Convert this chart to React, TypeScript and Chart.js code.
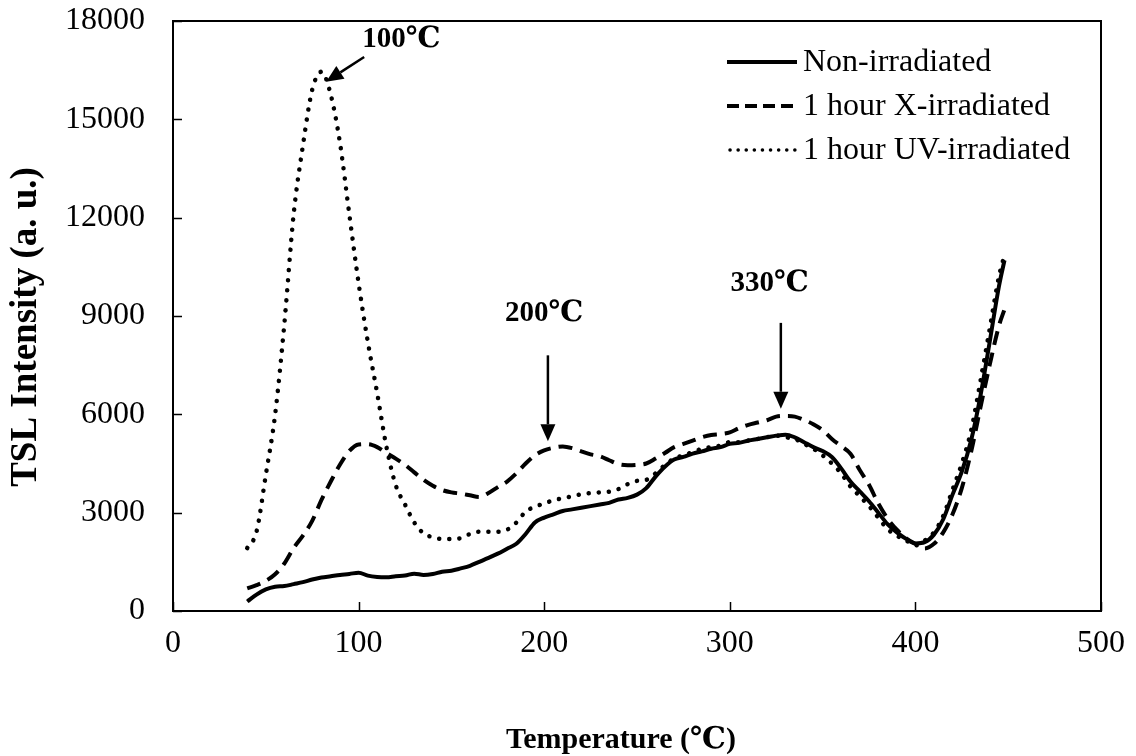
import React, { useEffect, useRef } from "react";
import { Chart, registerables } from "chart.js";

Chart.register(...registerables);

// Temperature (°C)
const temps = [
  40, 45, 50, 55, 60, 65, 70, 75, 80, 85,
  90, 95, 100, 105, 110, 115, 120, 125, 130, 135,
  140, 145, 150, 155, 160, 165, 170, 175, 180, 185,
  190, 195, 200, 205, 210, 215, 220, 225, 230, 235,
  240, 245, 250, 255, 260, 265, 270, 275, 280, 285,
  290, 295, 300, 305, 310, 315, 320, 325, 330, 335,
  340, 345, 350, 355, 360, 365, 370, 375, 380, 385,
  390, 395, 400, 405, 410, 415, 420, 425, 430, 435,
  440, 445, 448,
];

const nonIrradiated = [
  290, 500, 660, 740, 760, 820, 880, 960, 1020, 1060,
  1100, 1130, 1170, 1080, 1040, 1030, 1060, 1080, 1140, 1100,
  1130, 1200, 1230, 1300, 1380, 1500, 1620, 1750, 1900, 2050,
  2350, 2700, 2850, 2950, 3050, 3100, 3150, 3200, 3250, 3300,
  3400, 3450, 3550, 3750, 4100, 4400, 4620, 4700, 4800, 4870,
  4950, 5000, 5100, 5130, 5200, 5250, 5300, 5350, 5380, 5300,
  5150, 5000, 4880, 4700, 4350, 3950, 3650, 3350, 3000, 2650,
  2400, 2200, 2060, 2100, 2330, 2800, 3550, 4250, 5200, 6550,
  8200, 9900, 10700,
];

const xIrradiated = [
  690, 790, 920, 1120, 1450, 1920, 2300, 2750, 3390, 3950,
  4470, 4880, 5080, 5090, 5000, 4820, 4650, 4460, 4230, 4000,
  3820, 3690, 3620, 3580, 3530, 3480, 3600, 3780, 3950, 4200,
  4500, 4750, 4900, 4980, 5020, 4970, 4870, 4780, 4720, 4600,
  4480, 4450, 4460, 4500, 4650, 4820, 5000, 5100, 5200, 5300,
  5370, 5400, 5450, 5580, 5680, 5750, 5820, 5930, 5950, 5930,
  5830, 5700, 5520, 5250, 5030, 4800, 4300, 3850, 3280, 2820,
  2480, 2220, 2050, 1910, 2050, 2400, 2950, 3750, 4850, 6200,
  7500, 8700, 9200,
];

const uvIrradiated = [
  1920, 2420, 4150, 5980, 8760, 12100, 14200, 15900, 16450, 15750,
  14270, 12100, 10000, 8200, 6650, 5010, 3840, 3250, 2700, 2370,
  2250, 2200, 2200, 2220, 2350, 2420, 2420, 2420, 2480, 2700,
  3030, 3180, 3280, 3380, 3440, 3500, 3560, 3600, 3620, 3640,
  3720, 3870, 3970, 4000, 4200, 4450, 4650, 4750, 4850, 4950,
  5000, 5050, 5150, 5150, 5200, 5250, 5300, 5350, 5300, 5250,
  5100, 4950, 4750, 4500, 4200, 3800, 3500, 3200, 2850, 2500,
  2300, 2150, 2000, 2150, 2400, 2900, 3700, 4500, 5500, 7000,
  8600, 10200, 10860,
];

const seriesLabels = ["Non-irradiated", "1 hour X-irradiated", "1 hour UV-irradiated"];
const xTickValues = [0, 100, 200, 300, 400, 500];
const yTickValues = [0, 3000, 6000, 9000, 12000, 15000, 18000];

const peakLabels = ["100℃", "200℃", "330℃"];
// annotation anchors in data units: text centre, arrow start, arrow tip
const peakTextAt = [
  [123, 17450],
  [200, 9090],
  [321.5, 10000],
];
const peakArrowFrom = [
  [103, 16900],
  [202, 7800],
  [327.5, 8790],
];
const peakArrowTo = [
  [82.5, 16150],
  [202, 5180],
  [327.5, 6170],
];

const FONT = '"Liberation Serif", "Times New Roman", "DejaVu Serif", serif';
const dashStyles: number[][] = [[], [14, 8], [0.1, 10]];
const widths = [4, 4, 4.5];
const caps: CanvasLineCap[] = ["butt", "butt", "round"];

const decorPlugin = {
  id: "decor",
  afterDraw(chart: any) {
    const ctx = chart.ctx as CanvasRenderingContext2D;
    const { left, right, top, bottom } = chart.chartArea;
    const xs = chart.scales.x;
    const ys = chart.scales.y;
    ctx.save();
    // frame
    ctx.strokeStyle = "#000";
    ctx.lineWidth = 2;
    ctx.setLineDash([]);
    ctx.strokeRect(left, top, right - left, bottom - top);
    // inward ticks
    ctx.lineWidth = 1.5;
    ctx.beginPath();
    for (const v of yTickValues) {
      const py = Math.round(ys.getPixelForValue(v)) + 0.5;
      ctx.moveTo(left, py);
      ctx.lineTo(left + 9, py);
    }
    for (const v of xTickValues) {
      const px = Math.round(xs.getPixelForValue(v)) + 0.5;
      ctx.moveTo(px, bottom);
      ctx.lineTo(px, bottom - 9);
    }
    ctx.stroke();

    // peak annotations
    ctx.fillStyle = "#000";
    ctx.font = `bold 29px ${FONT}`;
    ctx.textAlign = "center";
    ctx.textBaseline = "middle";
    peakLabels.forEach((lab, i) => {
      const tx = xs.getPixelForValue(peakTextAt[i][0]);
      const ty = ys.getPixelForValue(peakTextAt[i][1]);
      ctx.fillText(lab, tx, ty);
      const x0 = xs.getPixelForValue(peakArrowFrom[i][0]);
      const y0 = ys.getPixelForValue(peakArrowFrom[i][1]);
      const x1 = xs.getPixelForValue(peakArrowTo[i][0]);
      const y1 = ys.getPixelForValue(peakArrowTo[i][1]);
      const ang = Math.atan2(y1 - y0, x1 - x0);
      const headLen = 17;
      const headW = 7.5;
      const bx = x1 - headLen * Math.cos(ang);
      const by = y1 - headLen * Math.sin(ang);
      ctx.lineWidth = 2.5;
      ctx.beginPath();
      ctx.moveTo(x0, y0);
      ctx.lineTo(bx, by);
      ctx.stroke();
      ctx.beginPath();
      ctx.moveTo(x1, y1);
      ctx.lineTo(bx + headW * Math.sin(ang), by - headW * Math.cos(ang));
      ctx.lineTo(bx - headW * Math.sin(ang), by + headW * Math.cos(ang));
      ctx.closePath();
      ctx.fill();
    });

    // legend
    ctx.font = `32px ${FONT}`;
    ctx.textAlign = "left";
    ctx.textBaseline = "middle";
    seriesLabels.forEach((lab, i) => {
      const y = 62 + i * 44;
      ctx.lineWidth = i === 2 ? 3.5 : widths[i];
      ctx.lineCap = caps[i];
      ctx.setLineDash(i === 2 ? [0.1, 8] : i === 1 ? [12, 6] : []);
      ctx.beginPath();
      ctx.moveTo(i === 2 ? 730 : 727, y);
      ctx.lineTo(797, y);
      ctx.stroke();
      ctx.setLineDash([]);
      ctx.fillText(lab, 803, y + 1);
    });

    // axis titles
    ctx.font = `bold 30px ${FONT}`;
    ctx.textAlign = "center";
    ctx.fillText("Temperature (℃)", 621, 740);
    ctx.font = `bold 37px ${FONT}`;
    ctx.translate(26, 327);
    ctx.rotate(-Math.PI / 2);
    ctx.fillText("TSL Intensity (a. u.)", 0, 0);
    ctx.restore();
  },
};

export default function App() {
  const ref = useRef<HTMLCanvasElement | null>(null);
  useEffect(() => {
    if (!ref.current) return;
    const series = [nonIrradiated, xIrradiated, uvIrradiated];
    const chart = new Chart(ref.current, {
      type: "line",
      data: {
        datasets: series.map((vals, i) => ({
          label: seriesLabels[i],
          data: temps.map((t, k) => ({ x: t, y: vals[k] })),
          borderColor: "#000",
          backgroundColor: "#000",
          borderWidth: widths[i],
          borderDash: dashStyles[i],
          borderCapStyle: caps[i],
          pointRadius: 0,
          tension: 0.25,
          cubicInterpolationMode: "monotone",
          fill: false,
        })),
      },
      options: {
        responsive: false,
        animation: false,
        layout: { padding: { top: 21, right: 35, bottom: 0, left: 0 } },
        plugins: { legend: { display: false }, tooltip: { enabled: false } },
        scales: {
          x: {
            type: "linear",
            min: 0,
            max: 500,
            afterBuildTicks: (s: any) => {
              s.ticks = xTickValues.map((v) => ({ value: v }));
            },
            ticks: {
              color: "#000",
              font: { family: FONT, size: 32 },
              padding: 13,
              maxRotation: 0,
              callback: (v: any) => String(v),
            },
            grid: { display: false, drawTicks: false },
            border: { display: false },
            afterFit: (s: any) => {
              s.height = 145;
              s.paddingLeft = 0;
              s.paddingRight = 0;
              s.paddingTop = 0;
              s.paddingBottom = 0;
            },
          },
          y: {
            type: "linear",
            min: 0,
            max: 18000,
            afterBuildTicks: (s: any) => {
              s.ticks = yTickValues.map((v) => ({ value: v }));
            },
            ticks: {
              color: "#000",
              font: { family: FONT, size: 32 },
              padding: 28,
              callback: (v: any) => String(v),
            },
            grid: { display: false, drawTicks: false },
            border: { display: false },
            afterFit: (s: any) => {
              s.width = 173;
              s.paddingLeft = 0;
              s.paddingRight = 0;
              s.paddingTop = 0;
              s.paddingBottom = 0;
            },
          },
        },
      },
      plugins: [decorPlugin],
    });
    return () => chart.destroy();
  }, []);
  return (
    <div style={{ position: "absolute", left: 0, top: 0, width: 1136, height: 756, background: "#fff" }}>
      <canvas ref={ref} width={1136} height={756} style={{ display: "block" }} />
    </div>
  );
}
